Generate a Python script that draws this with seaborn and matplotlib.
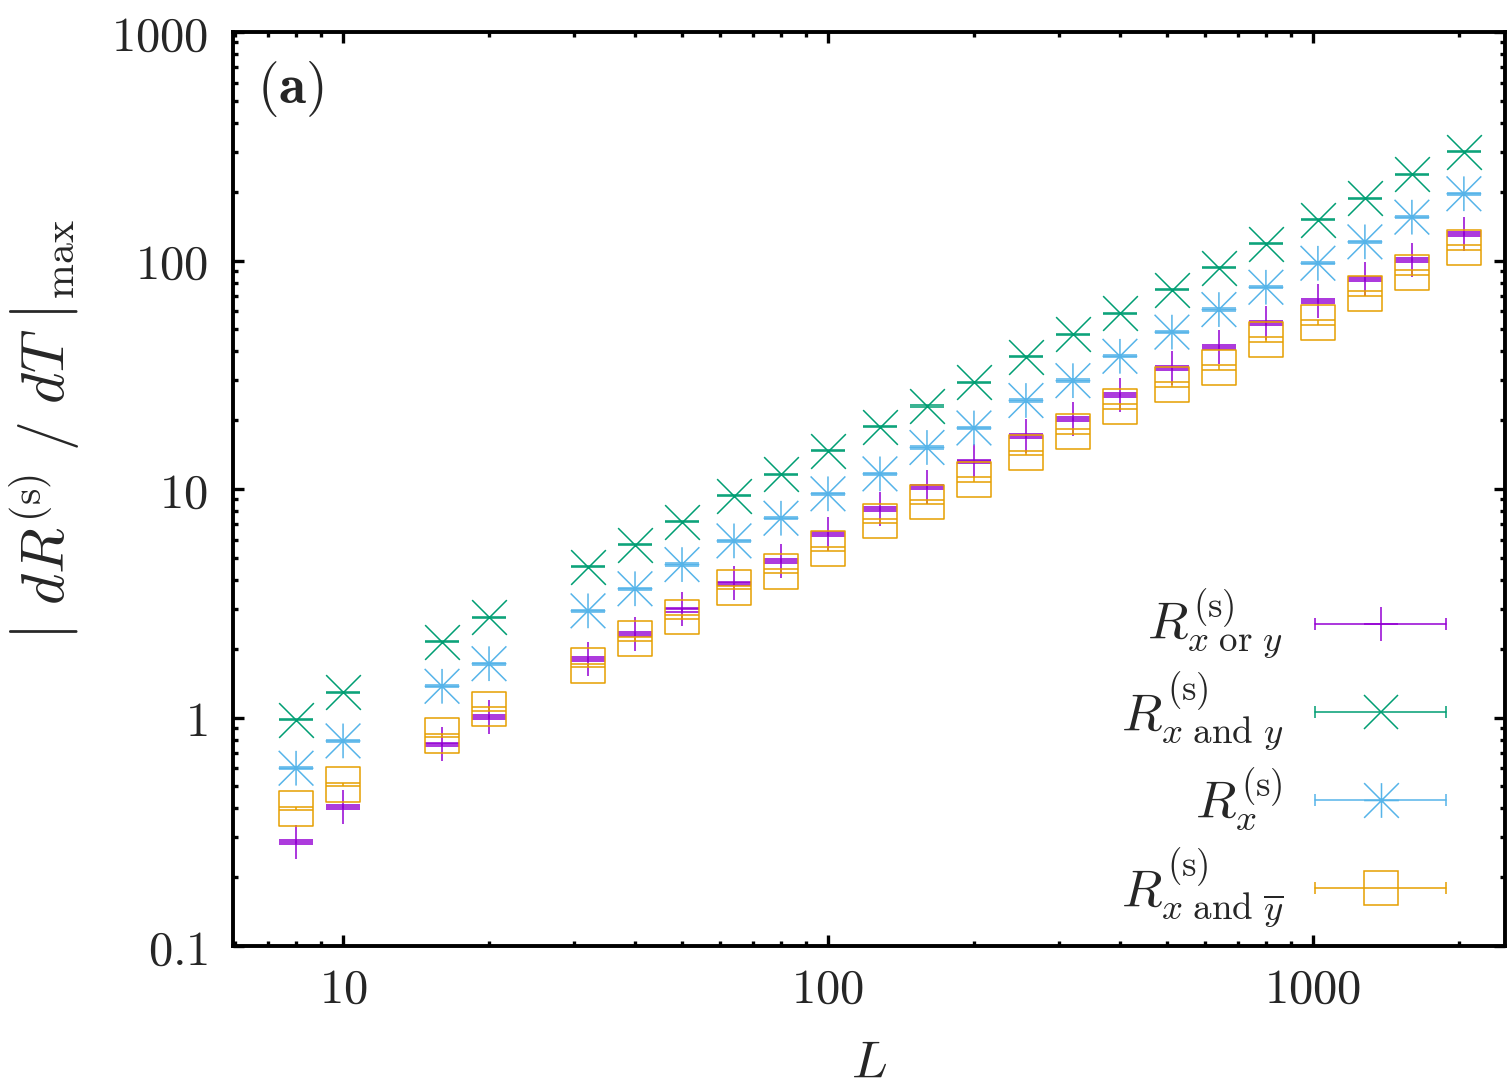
import numpy as np
import matplotlib
matplotlib.use("Agg")
import matplotlib.pyplot as plt
from matplotlib.path import Path
from matplotlib.ticker import FuncFormatter, NullFormatter, LogLocator
import seaborn as sns

# ---------------- data ----------------
L = [8, 10, 16, 20, 32, 40, 50, 64, 80, 100, 128, 160, 200, 256, 320, 400,
     512, 640, 800, 1024, 1280, 1600, 2048]

r_or = [0.286, 0.405, 0.762, 1.01, 1.81, 2.31, 2.97, 3.86, 4.83, 6.37, 8.19,
        10.2, 13.2, 17.1, 20.3, 25.7, 33.9, 41.7, 53.4, 66.4, 83.4, 101, 131]
r_or_err = [0.006, 0.008, 0.015, 0.02, 0.036, 0.046, 0.06, 0.077, 0.097, 0.13,
            0.16, 0.2, 0.26, 0.34, 0.41, 0.51, 0.68, 0.83, 1.07, 1.33, 1.67,
            2.0, 2.6]

r_and = [0.98, 1.29, 2.15, 2.75, 4.57, 5.71, 7.18, 9.35, 11.6, 14.7, 18.7,
         23.1, 29.3, 37.9, 47.5, 58.8, 74.6, 93.2, 118.6, 151, 187, 238, 300]
r_and_err = [0.006, 0.008, 0.013, 0.016, 0.027, 0.034, 0.043, 0.056, 0.07,
             0.09, 0.11, 0.14, 0.18, 0.23, 0.29, 0.35, 0.45, 0.56, 0.7, 0.9,
             1.1, 1.4, 1.8]

r_x = [0.60, 0.79, 1.37, 1.72, 2.93, 3.66, 4.67, 5.93, 7.45, 9.53, 11.65,
       15.2, 18.5, 24.4, 29.8, 38.1, 48.6, 61.0, 76.4, 97.3, 120.7, 154.8, 196]
r_x_err = [0.007, 0.009, 0.016, 0.02, 0.035, 0.044, 0.056, 0.07, 0.09, 0.11,
           0.14, 0.18, 0.22, 0.29, 0.36, 0.46, 0.58, 0.73, 0.92, 1.17, 1.45,
           1.86, 2.35]

r_andbar = [0.399, 0.508, 0.837, 1.09, 1.69, 2.21, 2.75, 3.71, 4.36, 5.48,
            7.24, 8.77, 11.0, 14.4, 17.9, 23.0, 28.7, 34.1, 45.1, 53.4, 71.5,
            88.9, 113.7]
r_andbar_err = [0.006, 0.008, 0.013, 0.02, 0.03, 0.04, 0.05, 0.07, 0.09, 0.12,
                0.16, 0.2, 0.26, 0.34, 0.45, 0.58, 0.72, 0.85, 1.13, 1.34,
                1.79, 2.22, 2.84]

labels = [r"$R^{(\mathrm{s})}_{x\ \mathrm{or}\ y}$",
          r"$R^{(\mathrm{s})}_{x\ \mathrm{and}\ y}$",
          r"$R^{(\mathrm{s})}_{x}$",
          r"$R^{(\mathrm{s})}_{x\ \mathrm{and}\ \overline{y}}$"]
colors = ["#9400D3", "#009E73", "#56B4E9", "#E69F00"]

# ---------------- style ----------------
sns.set_theme(style="ticks")
plt.rcParams["font.family"] = ["DejaVu Serif"]
plt.rcParams["mathtext.fontset"] = "cm"

FS = 35
FS_LEG = 38

# asterisk marker: plus + x reaching the square corners
ast_path = Path([(-1, 0), (1, 0), (0, -1), (0, 1), (-1, -1), (1, 1), (-1, 1), (1, -1)],
                [Path.MOVETO, Path.LINETO] * 4)
markers = ["+", "x", ast_path, "s"]

fig = plt.figure(figsize=(15.12, 10.86), dpi=100)
ax = fig.add_axes([0.1541, 0.1289, 0.8413, 0.8416])

series = [(r_or, r_or_err), (r_and, r_and_err), (r_x, r_x_err), (r_andbar, r_andbar_err)]
MS = 25
LW = 1.1
for i, ((vals, errs), c, m) in enumerate(zip(series, colors, markers)):
    ax.errorbar(L, vals, yerr=errs, fmt="none", ecolor=c, elinewidth=LW,
                capsize=MS / 2, capthick=LW, zorder=3 + i)
    if m == "s" or isinstance(m, Path):
        sns.scatterplot(x=L, y=vals, marker=m, s=MS ** 2, facecolor="none",
                        edgecolor=c, linewidth=LW, ax=ax, zorder=3 + i)
    else:
        sns.scatterplot(x=L, y=vals, marker=m, s=MS ** 2, color=c,
                        linewidth=LW, ax=ax, zorder=3 + i)

ax.set_xscale("log")
ax.set_yscale("log")
ax.set_xlim(5.93, 2490)
ax.set_ylim(0.1, 1000)

fmt = FuncFormatter(lambda v, p: f"${v:g}$")
ax.xaxis.set_major_locator(LogLocator(base=10, numticks=20))
ax.yaxis.set_major_locator(LogLocator(base=10, numticks=20))
ax.xaxis.set_minor_locator(LogLocator(base=10, subs=np.arange(2, 10), numticks=50))
ax.yaxis.set_minor_locator(LogLocator(base=10, subs=np.arange(2, 10), numticks=50))
ax.xaxis.set_major_formatter(fmt)
ax.yaxis.set_major_formatter(fmt)
ax.xaxis.set_minor_formatter(NullFormatter())
ax.yaxis.set_minor_formatter(NullFormatter())

ax.tick_params(which="both", direction="in", top=True, right=True,
               labelsize=FS, width=2.4, color="black")
ax.tick_params(which="major", length=8, pad=14)
ax.tick_params(which="minor", length=3.5)
ax.tick_params(axis="y", which="major", pad=18)
for sp in ax.spines.values():
    sp.set_linewidth(2.8)
    sp.set_color("black")

ax.set_xlabel(r"$L$", fontsize=FS + 3)
ax.xaxis.set_label_coords(0.5, -0.1)
ax.set_ylabel(r"$\left|\ dR^{(\mathrm{s})}\ /\ dT\ \right|_{\max}$", fontsize=43)
ax.yaxis.set_label_coords(-0.119, 0.565)

ax.text(0.0189, 0.9376, r"$\mathbf{(a)}$", transform=ax.transAxes,
        fontsize=40, ha="left", va="center")

# ---------------- legend (gnuplot style) ----------------
rows = [0.3523, 0.256, 0.1597, 0.0635]
x0, x1, xm, xt = 0.8506, 0.9536, 0.9025, 0.8255
for yy, c, m, lab in zip(rows, colors, markers, labels):
    ax.plot([x0, x1], [yy, yy], color=c, lw=LW, transform=ax.transAxes,
            clip_on=False, zorder=10)
    ax.plot([x0, x1], [yy, yy], ls="none", marker="|", ms=9, mew=LW, color=c,
            transform=ax.transAxes, clip_on=False, zorder=10)
    if m == "s" or isinstance(m, Path):
        ax.plot([xm], [yy], ls="none", marker=m, ms=MS, mfc="none", mec=c,
                mew=LW, transform=ax.transAxes, clip_on=False, zorder=10)
    else:
        ax.plot([xm], [yy], ls="none", marker=m, ms=MS, color=c, mew=LW,
                transform=ax.transAxes, clip_on=False, zorder=10)
    ax.text(xt, yy, lab, transform=ax.transAxes, fontsize=FS_LEG, ha="right",
            va="center", zorder=10)

fig.savefig("out.png", dpi=100)
